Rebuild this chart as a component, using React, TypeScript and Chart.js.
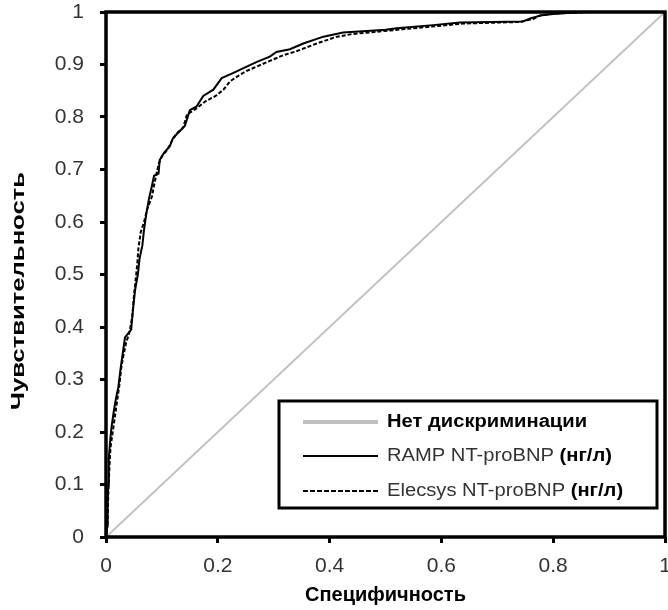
import React, { useEffect, useRef } from 'react';
import { Chart, registerables } from 'chart.js';

Chart.register(...registerables);

// ---- Data ----
const tickValues = [0, 0.2, 0.4, 0.6, 0.8, 1];
const yTickValues = [0, 0.1, 0.2, 0.3, 0.4, 0.5, 0.6, 0.7, 0.8, 0.9, 1];

const diagonalX = [0, 1];
const diagonalY = [0, 1];

const rampX = [0, 0.002, 0.003, 0.004, 0.005, 0.008, 0.010, 0.014, 0.018, 0.022, 0.026, 0.030, 0.034, 0.045, 0.048, 0.052, 0.057, 0.060, 0.065, 0.068, 0.072, 0.077, 0.082, 0.086, 0.094, 0.096, 0.104, 0.114, 0.120, 0.129, 0.141, 0.150, 0.162, 0.174, 0.192, 0.207, 0.228, 0.246, 0.270, 0.293, 0.305, 0.329, 0.353, 0.389, 0.424, 0.466, 0.500, 0.520, 0.585, 0.633, 0.746, 0.760, 0.780, 0.800, 0.850, 1];
const rampY = [0, 0.02, 0.06, 0.10, 0.15, 0.19, 0.21, 0.24, 0.265, 0.285, 0.32, 0.35, 0.38, 0.395, 0.43, 0.47, 0.50, 0.53, 0.555, 0.585, 0.615, 0.645, 0.668, 0.688, 0.692, 0.718, 0.732, 0.744, 0.76, 0.77, 0.783, 0.813, 0.82, 0.84, 0.852, 0.874, 0.884, 0.893, 0.905, 0.915, 0.924, 0.929, 0.94, 0.953, 0.961, 0.964, 0.966, 0.969, 0.975, 0.98, 0.982, 0.988, 0.994, 0.996, 1, 1];

const elecsysX = [0, 0.003, 0.004, 0.006, 0.008, 0.012, 0.016, 0.020, 0.024, 0.027, 0.031, 0.036, 0.042, 0.047, 0.050, 0.053, 0.056, 0.058, 0.062, 0.068, 0.074, 0.082, 0.086, 0.090, 0.094, 0.100, 0.110, 0.118, 0.126, 0.138, 0.145, 0.160, 0.178, 0.196, 0.210, 0.222, 0.236, 0.252, 0.278, 0.300, 0.318, 0.340, 0.377, 0.410, 0.440, 0.480, 0.530, 0.590, 0.640, 0.740, 0.765, 0.775, 0.800, 0.870, 1];
const elecsysY = [0, 0.03, 0.08, 0.13, 0.17, 0.20, 0.23, 0.26, 0.29, 0.32, 0.345, 0.37, 0.39, 0.42, 0.46, 0.49, 0.52, 0.55, 0.58, 0.60, 0.625, 0.648, 0.67, 0.69, 0.71, 0.725, 0.738, 0.755, 0.768, 0.78, 0.805, 0.815, 0.83, 0.84, 0.852, 0.868, 0.878, 0.888, 0.90, 0.91, 0.918, 0.925, 0.94, 0.952, 0.958, 0.962, 0.967, 0.973, 0.978, 0.981, 0.987, 0.993, 0.997, 1, 1];

const seriesNames = ['Нет дискриминации', 'RAMP NT-proBNP ', 'Elecsys NT-proBNP '];
const unitLabel = '(нг/л)';
const xTitle = 'Специфичность';
const yTitle = 'Чувствительность';

const FONT = '"Liberation Sans", Arial, sans-serif';

const toPoints = (xs: number[], ys: number[]) => xs.map((x, i) => ({ x, y: ys[i] }));

const framePlugin = {
  id: 'frameAndLegend',
  afterDatasetsDraw(chart: any) {
    const { ctx, chartArea: ca } = chart;
    ctx.save();
    ctx.strokeStyle = '#000';
    ctx.lineWidth = 3.5;
    ctx.strokeRect(ca.left, ca.top, ca.right - ca.left, ca.bottom - ca.top);

    // legend box
    const bx = ca.left + 173;
    const by = ca.top + 389;
    const bw = 378;
    const bh = 107;
    ctx.fillStyle = '#fff';
    ctx.fillRect(bx, by, bw, bh);
    ctx.lineWidth = 3;
    ctx.strokeRect(bx, by, bw, bh);

    const rows = [by + 21, by + 55, by + 90];
    const lx0 = bx + 24;
    const lx1 = bx + 99;
    const tx = bx + 108;
    const stretch = 1.12;

    ctx.strokeStyle = '#c0c0c0';
    ctx.lineWidth = 4;
    ctx.beginPath();
    ctx.moveTo(lx0, rows[0]);
    ctx.lineTo(lx1, rows[0]);
    ctx.stroke();
    ctx.strokeStyle = '#000';
    ctx.lineWidth = 2;
    ctx.beginPath();
    ctx.moveTo(lx0, rows[1]);
    ctx.lineTo(lx1, rows[1]);
    ctx.stroke();
    ctx.setLineDash([5, 2]);
    ctx.beginPath();
    ctx.moveTo(lx0, rows[2]);
    ctx.lineTo(lx1, rows[2]);
    ctx.stroke();
    ctx.setLineDash([]);

    const drawStretched = (text: string, x: number, y: number, font: string, color: string) => {
      ctx.save();
      ctx.font = font;
      ctx.fillStyle = color;
      ctx.textBaseline = 'middle';
      ctx.textAlign = 'left';
      ctx.translate(x, y);
      ctx.scale(stretch, 1);
      ctx.fillText(text, 0, 0);
      const w = ctx.measureText(text).width * stretch;
      ctx.restore();
      return w;
    };
    const boldFont = 'bold 18px ' + FONT;
    const normFont = '18px ' + FONT;
    drawStretched(seriesNames[0], tx, rows[0], boldFont, '#000');
    let w = drawStretched(seriesNames[1], tx, rows[1], normFont, '#333');
    drawStretched(unitLabel, tx + w, rows[1], boldFont, '#000');
    w = drawStretched(seriesNames[2], tx, rows[2], normFont, '#333');
    drawStretched(unitLabel, tx + w, rows[2], boldFont, '#000');

    // y-axis title (rotated, stretched along its length)
    ctx.save();
    ctx.font = 'bold 19px ' + FONT;
    ctx.fillStyle = '#000';
    ctx.textAlign = 'center';
    ctx.textBaseline = 'middle';
    ctx.translate(19, 291);
    ctx.rotate(-Math.PI / 2);
    ctx.scale(1.35, 1);
    ctx.fillText(yTitle, 0, 0);
    ctx.restore();

    ctx.restore();
  },
};

export default function App() {
  const ref = useRef<HTMLCanvasElement | null>(null);
  useEffect(() => {
    if (!ref.current) return;
    const chart = new Chart(ref.current, {
      type: 'scatter',
      data: {
        datasets: [
          {
            label: seriesNames[0],
            data: toPoints(diagonalX, diagonalY),
            showLine: true,
            borderColor: '#c0c0c0',
            borderWidth: 2,
            pointRadius: 0,
          },
          {
            label: seriesNames[2],
            data: toPoints(elecsysX, elecsysY),
            showLine: true,
            borderColor: '#000',
            borderWidth: 2,
            borderDash: [4, 2],
            pointRadius: 0,
          },
          {
            label: seriesNames[1],
            data: toPoints(rampX, rampY),
            showLine: true,
            borderColor: '#000',
            borderWidth: 2,
            pointRadius: 0,
          },
        ],
      },
      options: {
        animation: false,
        responsive: false,
        events: [],
        layout: { padding: { left: 0, top: 12, right: 3, bottom: 0 } },
        plugins: { legend: { display: false }, tooltip: { enabled: false } },
        scales: {
          x: {
            type: 'linear',
            min: 0,
            max: 1,
            afterFit: (s: any) => {
              s.height = 73;
              s.paddingLeft = 0;
              s.paddingRight = 0;
              s.paddingTop = 0;
              s.paddingBottom = 0;
            },
            afterBuildTicks: (s: any) => { s.ticks = tickValues.map((v) => ({ value: v })); },
            border: { display: false },
            grid: { drawOnChartArea: false, drawTicks: true, tickLength: 6, color: '#000', lineWidth: 3 },
            ticks: {
              color: '#333',
              font: { family: FONT, size: 21 },
              padding: 11,
              maxRotation: 0,
              callback: (v: any) => String(v),
            },
            title: {
              display: true,
              text: xTitle,
              color: '#000',
              font: { family: FONT, size: 20, weight: 'bold' },
              padding: { top: 0, bottom: 3 },
            },
          },
          y: {
            type: 'linear',
            min: 0,
            max: 1,
            afterFit: (s: any) => {
              s.width = 106;
              s.paddingLeft = 0;
              s.paddingRight = 0;
              s.paddingTop = 0;
              s.paddingBottom = 0;
            },
            afterBuildTicks: (s: any) => { s.ticks = yTickValues.map((v) => ({ value: v })); },
            border: { display: false },
            grid: { drawOnChartArea: false, drawTicks: true, tickLength: 6, color: '#000', lineWidth: 3 },
            ticks: {
              color: '#333',
              font: { family: FONT, size: 21 },
              padding: 16,
              callback: (v: any) => String(v),
            },
            title: { display: false },
          },
        },
      },
      plugins: [framePlugin],
    });
    return () => chart.destroy();
  }, []);
  return (
    <div style={{ position: 'absolute', left: 0, top: 0, width: 668, height: 610, background: '#fff' }}>
      <canvas ref={ref} width={668} height={610} style={{ display: 'block' }} />
    </div>
  );
}
